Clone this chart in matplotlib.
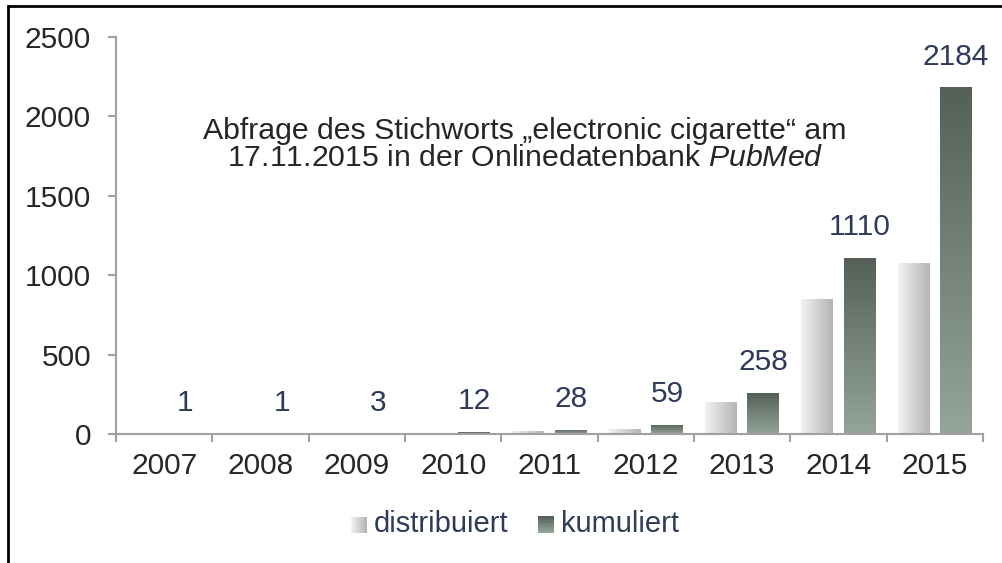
import numpy as np
import matplotlib
matplotlib.use("Agg")
import matplotlib.pyplot as plt
from matplotlib.patches import Rectangle
from matplotlib.lines import Line2D
from matplotlib.legend_handler import HandlerBase
from matplotlib.colors import LinearSegmentedColormap, to_rgb

plt.rcParams['font.family'] = ['Liberation Sans', 'DejaVu Sans']
plt.rcParams['mathtext.fontset'] = 'custom'
plt.rcParams['mathtext.rm'] = 'Liberation Sans'
plt.rcParams['mathtext.it'] = 'Liberation Sans:italic'

years = ['2007', '2008', '2009', '2010', '2011', '2012', '2013', '2014', '2015']
distribuiert = [1, 0, 2, 9, 16, 31, 199, 852, 1074]
kumuliert = [1, 1, 3, 12, 28, 59, 258, 1110, 2184]
series_names = ['distribuiert', 'kumuliert']
yticks = [0, 500, 1000, 1500, 2000, 2500]

DIST_L, DIST_R = '#F2F2F2', '#B5B5B5'
KUM_T, KUM_B = '#556158', '#94A497'
TXT = '#262626'
LBL = '#2E3A5A'
AX = '#A0A0A0'

fig = plt.figure(figsize=(10.02, 5.63), dpi=100)
ax = fig.add_axes([116/1002, 1-434/563, (983-116)/1002, (434-37)/563])

x = np.arange(len(years))
w = 0.33
off = 0.22
b1 = ax.bar(x - off, distribuiert, w, color='none', edgecolor='none')
b2 = ax.bar(x + off, kumuliert, w, color='none', edgecolor='none')

cm_d = LinearSegmentedColormap.from_list('d', [DIST_L, DIST_R])
cm_k = LinearSegmentedColormap.from_list('k', [KUM_B, KUM_T])
hgrad = np.linspace(0, 1, 64).reshape(1, -1)
vgrad = np.linspace(0, 1, 64).reshape(-1, 1)

for bars, cmap, grad in ((b1, cm_d, hgrad), (b2, cm_k, vgrad)):
    for p in bars:
        h = p.get_height()
        if h <= 0:
            continue
        x0 = p.get_x(); ww = p.get_width()
        im = ax.imshow(grad, cmap=cmap, extent=[x0, x0 + ww, 0, h],
                       origin='lower', aspect='auto', zorder=2,
                       interpolation='bilinear')
        im.set_clip_path(p)
ax.set_xlim(-0.5, len(years) - 0.5)
ax.set_ylim(0, 2500)

for p, v in zip(b2, kumuliert):
    ax.annotate(str(v), (p.get_x() + p.get_width()/2, p.get_height()),
                xytext=(0, 12), textcoords='offset points',
                ha='center', va='bottom', fontsize=21.5, color=LBL)

# axes styling
for s in ['top', 'right']:
    ax.spines[s].set_visible(False)
for s in ['left', 'bottom']:
    ax.spines[s].set_color(AX)
    ax.spines[s].set_linewidth(1.5)
ax.set_yticks(yticks)
ax.tick_params(axis='y', direction='out', length=6, width=1.5, color=AX,
               labelsize=21.5, labelcolor=TXT, pad=12)
ax.set_xticks(np.arange(len(years) + 1) - 0.5)
ax.set_xticklabels([])
ax.tick_params(axis='x', which='major', direction='out', length=6, width=1.5, color=AX)
ax.set_xticks(x, minor=True)
ax.set_xticklabels(years, minor=True)
ax.tick_params(axis='x', which='minor', length=0, labelsize=21.5, labelcolor=TXT, pad=13)

ax.text(0.472, 0.73,
        'Abfrage des Stichworts „electronic cigarette“ am\n17.11.2015 in der Onlinedatenbank $\\mathit{PubMed}$',
        transform=ax.transAxes, ha='center', va='center', fontsize=21.8,
        color=TXT, linespacing=0.95)

# legend with gradient swatches
class GradHandler(HandlerBase):
    def __init__(self, c1, c2, horizontal):
        super().__init__()
        self.c1, self.c2, self.h = to_rgb(c1), to_rgb(c2), horizontal
    def create_artists(self, legend, orig, xd, yd, width, height, fontsize, trans):
        n = 12
        s = min(width, height) * 1.0
        x0 = xd + width - s
        y0 = yd + (height - s) / 2
        arts = []
        for i in range(n):
            t = i / (n - 1)
            c = tuple(a + (b - a) * t for a, b in zip(self.c1, self.c2))
            if self.h:
                r = Rectangle((x0 + s*i/n, y0), s/n + 0.3, s, facecolor=c, edgecolor='none', transform=trans)
            else:
                r = Rectangle((x0, y0 + s - s*(i+1)/n), s, s/n + 0.3, facecolor=c, edgecolor='none', transform=trans)
            arts.append(r)
        return arts

h1 = Rectangle((0, 0), 1, 1)
h2 = Rectangle((0, 0), 1, 1)
fig.legend([h1, h2], series_names, loc='center',
           bbox_to_anchor=(515/1002, 1 - 524/563), ncol=2, frameon=False,
           fontsize=21, labelcolor=LBL, handlelength=0.55, handleheight=0.55,
           handletextpad=0.25, columnspacing=1.0,
           handler_map={h1: GradHandler(DIST_L, DIST_R, True),
                        h2: GradHandler(KUM_T, KUM_B, False)})

# outer frame (left and top edges)
fx = 7.5/1002; fy = 1 - 5.5/563
fig.add_artist(Line2D([fx, fx, 1.0], [0.0, fy, fy], transform=fig.transFigure,
                      color='black', lw=2.0, solid_joinstyle='miter'))

fig.savefig('out.png', dpi=100)
